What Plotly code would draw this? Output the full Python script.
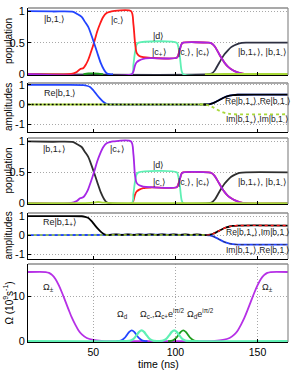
import plotly.graph_objects as go

# ---------------- data ----------------
# Panel 1: populations (first scheme)
t_p1_b1m = [10, 25, 37.8, 39.9, 42.9, 44.9, 46.9, 48.4, 50.4, 52.4, 54.5, 56.5, 58.1, 60.1, 62]
p1_b1m = [1.0, 0.995, 0.99, 0.96, 0.91, 0.83, 0.75, 0.65, 0.5, 0.34, 0.18, 0.07, 0.015, 0.0, 0.0]

t_p1_cm = [10, 35, 38, 39.9, 41.9, 44, 45.6, 46.9, 48.4, 50.4, 52.4, 54.1, 56.1, 58.1, 60.1, 62, 73,
           74.4, 75.4, 76.4, 78, 80.4, 85, 100.8, 101.7, 102.8, 103.8, 104.8, 120, 122, 124, 126, 128,
           130, 132, 134, 136, 139, 143, 169]
p1_cm = [0, 0, 0.015, 0.035, 0.08, 0.1, 0.16, 0.23, 0.34, 0.5, 0.68, 0.8, 0.91, 0.97, 0.99, 1.0, 1.0,
         0.8, 0.5, 0.34, 0.29, 0.27, 0.26, 0.26, 0.3, 0.4, 0.48, 0.5, 0.5, 0.49, 0.44, 0.35, 0.26,
         0.18, 0.12, 0.08, 0.05, 0.02, 0, 0]

t_p1_cp = [10, 73.4, 74.4, 75.4, 76.4, 78, 80.4, 85, 100.8, 101.7, 102.8, 103.8, 104.8, 120, 122, 124,
           126, 128, 130, 132, 134, 136, 139, 143, 169]
p1_cp = [0, 0, 0.04, 0.14, 0.19, 0.22, 0.245, 0.255, 0.26, 0.3, 0.4, 0.48, 0.5, 0.5, 0.49, 0.44,
         0.35, 0.26, 0.18, 0.12, 0.08, 0.05, 0.02, 0, 0]

t_p1_d = [10, 73.4, 74.4, 75.4, 76.4, 77.6, 100.8, 101.7, 102.8, 103.8, 104.8, 169]
p1_d = [0, 0, 0.15, 0.35, 0.47, 0.5, 0.5, 0.44, 0.26, 0.05, 0, 0]

t_p1_b1p = [10, 120, 122, 124, 126, 128, 130, 132, 134, 136, 139, 143, 169]
p1_b1p = [0, 0, 0.01, 0.06, 0.15, 0.24, 0.32, 0.38, 0.43, 0.46, 0.49, 0.5, 0.5]

t_p1_small = [44, 47, 50, 53, 56]
p1_small = [0, 0.012, 0.015, 0.01, 0]

t_p1_tail = [118, 130, 169]
p1_tail = [0.0, 0.004, 0.004]

# Panel 2: amplitudes (first scheme)
t_p2_re_m = [10, 30, 44, 46, 48, 50, 52, 54, 56, 58, 60, 62, 119, 121, 123, 125, 127, 129, 131, 133,
             135, 138, 169]
p2_re_m = [1.0, 1.0, 0.99, 0.96, 0.9, 0.73, 0.51, 0.31, 0.14, 0.03, 0, 0, 0, 0.02, 0.07, 0.15, 0.24,
           0.33, 0.4, 0.45, 0.48, 0.5, 0.5]
t_p2_re_p = [117, 119, 121, 123, 125, 127, 129, 131, 133, 135, 138, 169]
p2_re_p = [0, 0, 0.02, 0.07, 0.15, 0.24, 0.33, 0.4, 0.45, 0.48, 0.5, 0.5]
t_p2_zero = [10, 119]
p2_zero = [0, 0]
t_p2_im = [115, 117, 119, 121, 123, 125, 127, 129, 131, 133, 136, 169]
p2_im = [0, 0, -0.02, -0.07, -0.15, -0.24, -0.33, -0.4, -0.45, -0.48, -0.5, -0.5]

# Panel 3: populations (second scheme)
t_p3_b1p = [10, 25, 37.8, 39.9, 42.9, 44.9, 46.9, 48.4, 50.4, 52.4, 54.5, 56.5, 58.1, 60.1, 120, 122,
            124, 126, 128, 130, 132, 134, 136, 139, 143, 169]
p3_b1p = [1.0, 0.995, 0.99, 0.96, 0.91, 0.83, 0.75, 0.65, 0.5, 0.34, 0.18, 0.07, 0.015, 0, 0, 0.01,
          0.06, 0.15, 0.24, 0.32, 0.38, 0.43, 0.46, 0.49, 0.5, 0.5]
t_p3_cp = t_p1_cm
p3_cp = [0, 0, 0.015, 0.035, 0.08, 0.1, 0.16, 0.23, 0.34, 0.5, 0.68, 0.8, 0.91, 0.97, 0.99, 1.0, 1.0,
         0.8, 0.45, 0.33, 0.29, 0.27, 0.26, 0.26, 0.3, 0.4, 0.48, 0.5, 0.5, 0.49, 0.44, 0.35, 0.26,
         0.18, 0.12, 0.08, 0.05, 0.02, 0, 0]
t_p3_cm = t_p1_cp
p3_cm = [0, 0, 0.04, 0.14, 0.19, 0.22, 0.245, 0.255, 0.26, 0.3, 0.4, 0.48, 0.5, 0.5, 0.49, 0.44,
         0.35, 0.26, 0.18, 0.12, 0.08, 0.05, 0.02, 0, 0]
t_p3_d = t_p1_d
p3_d = p1_d
t_p3_base = [10, 45, 50, 53, 56, 62, 169]
p3_base = [0.003, 0.003, 0.01, 0.02, 0.01, 0.003, 0.003]

# Panel 4: amplitudes (second scheme)
t_p4_re_p = [10, 30, 43, 45, 47, 49, 51, 53, 55, 57, 59, 61, 64, 67.5, 71, 74.5, 78, 81.5, 85, 88.5,
             92, 95.5, 99, 102.5, 106, 109.5, 113, 116.5, 119, 121, 123, 125, 127, 129, 131, 133, 135,
             138, 169]
p4_re_p = [1.0, 1.0, 0.99, 0.96, 0.9, 0.73, 0.51, 0.31, 0.14, 0.03, 0.0, 0.02, 0.035, 0.005, 0.035,
           0.005, 0.035, 0.005, 0.035, 0.005, 0.035, 0.005, 0.035, 0.005, 0.035, 0.005, 0.035, 0.005,
           0.0, 0.02, 0.07, 0.15, 0.24, 0.33, 0.4, 0.45, 0.48, 0.5, 0.5]
t_p4_im_m = [119, 121, 123, 125, 127, 129, 131, 133, 135, 138, 169]
p4_im_m = [0.0, 0.02, 0.07, 0.15, 0.24, 0.33, 0.4, 0.45, 0.48, 0.5, 0.5]
t_p4_im_p = [10, 119, 121, 123, 125, 127, 129, 131, 133, 135, 138, 169]
p4_im_p = [0, 0, -0.02, -0.07, -0.15, -0.24, -0.33, -0.4, -0.45, -0.48, -0.5, -0.5]
t_p4_zero = [10, 119]
p4_zero = [0, 0]

# Panel 5: Rabi frequencies (10^9 s^-1)
t_om_pm = [10, 21, 23, 25, 27, 29, 31, 33, 35, 37, 39, 41, 43, 46, 50, 55, 60,
           119, 124, 129, 133, 136, 138, 140, 142, 144, 146, 148, 150, 152, 154, 156, 158, 169]
om_pm = [15.5, 15.5, 15.3, 14.8, 13.9, 12.5, 10.8, 8.9, 7.0, 5.2, 3.7, 2.4, 1.5, 0.7, 0.25, 0.05, 0,
         0, 0.05, 0.25, 0.7, 1.5, 2.4, 3.7, 5.2, 7.0, 8.9, 10.8, 12.5, 13.9, 14.8, 15.3, 15.5, 15.5]
t_om_d = [64, 65.9, 67.4, 68.9, 70.4, 71.9, 73.4, 74.9, 76.4, 77.9, 79.4, 80.9, 83]
om_d = [0, 0.05, 0.23, 0.65, 1.35, 2.08, 2.4, 2.08, 1.35, 0.65, 0.23, 0.05, 0]
t_om_d2 = [95.5, 97.3, 98.8, 100.3, 101.8, 103.3, 104.8, 106.3, 107.8, 109.3, 110.8, 112.3, 114]
om_d2 = [0, 0.05, 0.23, 0.65, 1.35, 2.08, 2.4, 2.08, 1.35, 0.65, 0.23, 0.05, 0]
t_om_c = [10, 70, 71.9, 73.4, 74.9, 76.4, 77.9, 79.4, 80.9, 82.4, 83.9, 85.4, 86.9, 89,
          90, 91.8, 93.3, 94.8, 96.3, 97.8, 99.3, 100.8, 102.3, 103.8, 105.3, 106.8, 109, 169]
om_c = [0, 0, 0.05, 0.23, 0.65, 1.35, 2.08, 2.4, 2.08, 1.35, 0.65, 0.23, 0.05, 0,
        0, 0.05, 0.23, 0.65, 1.35, 2.08, 2.4, 2.08, 1.35, 0.65, 0.23, 0.05, 0, 0]

x_ticks = [50, 100, 150]
x_range = [10.2, 168.6]

# ---------------- styling ----------------
BLUE = '#2244ff'
RED = '#ff1a1a'
AQUA = '#5ff0b4'
PURPLE = '#a626e6'
MAGENTA = '#b630e6'
NAVY = '#2e3042'
GRAY = '#2e2e2e'
YG = '#a8d838'
DGREEN = '#1e9e1e'
FONT = 'Liberation Sans, Arial, sans-serif'
GRID_DASH = '1px,2px'

fig = go.Figure()


def add(row, t, v, color, width=1.8, dash='solid'):
    fig.add_trace(go.Scatter(
        x=t, y=v, mode='lines',
        line=dict(color=color, width=width, dash=dash, shape='spline', smoothing=0.8),
        xaxis='x' if row == 1 else f'x{row}', yaxis='y' if row == 1 else f'y{row}',
        showlegend=False, hoverinfo='skip'))


# panel 1
add(1, t_p1_b1p, p1_b1p, NAVY)
add(1, t_p1_d, p1_d, AQUA)
add(1, t_p1_cm, p1_cm, RED)
add(1, t_p1_cp, p1_cp, PURPLE)
add(1, t_p1_b1m, p1_b1m, BLUE)
add(1, t_p1_small, p1_small, DGREEN)
add(1, t_p1_tail, p1_tail, YG)
# panel 2
add(2, t_p2_re_m, p2_re_m, BLUE)
add(2, t_p2_zero, p2_zero, YG)
add(2, t_p2_zero, p2_zero, 'black', 1.6, '2px,2px')
add(2, t_p2_re_p, p2_re_p, 'black')
add(2, t_p2_im, p2_im, YG, 1.8, 'dot')
# panel 3
add(3, t_p3_cm, p3_cm, RED)
add(3, t_p3_d, p3_d, AQUA)
add(3, t_p3_b1p, p3_b1p, GRAY)
add(3, t_p3_cp, p3_cp, PURPLE)
add(3, t_p3_base, p3_base, YG)
# panel 4
add(4, t_p4_im_p, p4_im_p, BLUE)
add(4, t_p4_re_p, p4_re_p, 'black')
add(4, t_p4_zero, p4_zero, YG, 1.6, 'dot')
add(4, t_p4_im_m, p4_im_m, RED, 1.4, 'dot')
add(4, t_p4_im_p[1:], p4_im_p[1:], '#333355', 1.0, 'dot')
# panel 5
add(5, t_om_pm, om_pm, MAGENTA)
add(5, t_om_d, om_d, BLUE)
add(5, t_om_d2, om_d2, DGREEN)
add(5, t_om_c, om_c, AQUA, 2.2)

# ---------------- layout ----------------
domains = [[0.7994, 1.0], [0.6287, 0.7754], [0.4132, 0.6108], [0.2485, 0.3862], [0.0, 0.2335]]
yranges = [[-0.012, 1.05], [-1.41, 1.1], [-0.012, 1.056], [-1.26, 1.16], [-0.2, 17.3]]
yticks = [[0, 0.5, 1], [-1, 0, 1], [0, 0.5, 1], [-1, 0, 1], [0, 10]]
yticktext = [['0', '0.5', '1'], ['-1', '0', '1'], ['0', '0.5', '1'], ['-1', '0', '1'], ['0', '10']]

layout = dict(width=293, height=371, autosize=False,
              margin=dict(l=28, r=5, t=8, b=29, autoexpand=False),
              paper_bgcolor='white', plot_bgcolor='white',
              font=dict(family=FONT, size=11, color='black'))
for i in range(5):
    k = '' if i == 0 else str(i + 1)
    layout['xaxis' + k] = dict(
        domain=[0, 1], anchor='y' + k, range=x_range, tickvals=x_ticks, automargin=False,
        showticklabels=(i == 4), ticks='inside', ticklen=3, tickcolor='black',
        showgrid=(i == 4), griddash=GRID_DASH, gridcolor='#a8a8a8', gridwidth=1,
        showline=True, linecolor='black', linewidth=1, zeroline=False,
        tickfont=dict(size=10.5))
    layout['yaxis' + k] = dict(
        domain=domains[i], anchor='x' + k, range=yranges[i], tickvals=yticks[i], automargin=False,
        ticktext=yticktext[i], ticks='inside', ticklen=3, tickcolor='black',
        showgrid=True, griddash=GRID_DASH, gridcolor='#a8a8a8', gridwidth=1,
        showline=True, linecolor='black', linewidth=1, zeroline=False,
        tickfont=dict(size=11))
fig.update_layout(**layout)

# top / right frame lines (gray, like the MATLAB box)
for i in range(5):
    k = '' if i == 0 else str(i + 1)
    fig.add_shape(type='line', xref=f'x{k} domain', yref=f'y{k} domain', x0=0, x1=1, y0=1, y1=1,
                  line=dict(color='#8c8c8c', width=1.6))
    fig.add_shape(type='line', xref=f'x{k} domain', yref=f'y{k} domain', x0=1, x1=1, y0=0, y1=1,
                  line=dict(color='#8c8c8c', width=1.2))

# curve labels
def lab(row, x, y, text, size=9):
    k = '' if row == 1 else str(row)
    fig.add_annotation(x=x, y=y, xref='x' + k, yref='y' + k, text=text, showarrow=False,
                       font=dict(size=size, family=FONT, color='#222222'),
                       xanchor='center', yanchor='middle')

lab(1, 26.6, 0.86, '|b,1<sub>-</sub>⟩')
lab(1, 64.7, 0.85, '|c<sub>-</sub>⟩')
lab(1, 90.0, 0.6, '|d⟩')
lab(1, 90.6, 0.35, '|c<sub>+</sub>⟩')
lab(1, 111.3, 0.35, '|c<sub>-</sub>⟩, |c<sub>+</sub>⟩')
lab(1, 153.0, 0.35, '|b,1<sub>+</sub>⟩, |b,1<sub>-</sub>⟩')

lab(2, 29.7, 0.55, 'Re|b,1<sub>-</sub>⟩')
lab(2, 150.3, 0.15, 'Re|b,1<sub>+</sub>⟩,Re|b,1<sub>-</sub>⟩', 8.5)
lab(2, 150.3, -0.77, 'Im|b,1<sub>+</sub>⟩,Im|b,1<sub>-</sub>⟩', 8.5)

lab(3, 26.6, 0.87, '|b,1<sub>+</sub>⟩')
lab(3, 64.7, 0.87, '|c<sub>+</sub>⟩')
lab(3, 90.0, 0.62, '|d⟩')
lab(3, 90.6, 0.34, '|c<sub>-</sub>⟩')
lab(3, 111.3, 0.34, '|c<sub>-</sub>⟩, |c<sub>+</sub>⟩')
lab(3, 153.0, 0.34, '|b,1<sub>+</sub>⟩, |b,1<sub>-</sub>⟩')

lab(4, 29.7, 0.66, 'Re|b,1<sub>+</sub>⟩')
lab(4, 150.3, 0.14, 'Re|b,1<sub>+</sub>⟩,Im|b,1<sub>-</sub>⟩', 8.5)
lab(4, 150.3, -0.81, 'Im|b,1<sub>+</sub>⟩,Re|b,1<sub>-</sub>⟩', 8.5)

lab(5, 22.7, 12.0, 'Ω<sub>±</sub>')
lab(5, 156.0, 12.0, 'Ω<sub>±</sub>')
lab(5, 68.0, 6.0, 'Ω<sub>d</sub>')
lab(5, 92.1, 6.2, 'Ω<sub>c-</sub>,Ω<sub>c+</sub>e<sup>iπ/2</sup>')
lab(5, 115.2, 6.2, 'Ω<sub>d</sub>e<sup>iπ/2</sup>')

# axis titles
ytitles = ['population', 'amplitudes', 'population', 'amplitudes', 'Ω (10<sup>9</sup>s<sup>-1</sup>)']
for i, ttl in enumerate(ytitles):
    fig.add_annotation(x=-0.075, y=(domains[i][0] + domains[i][1]) / 2, xref='paper', yref='paper',
                       text=ttl, textangle=-90, showarrow=False, xanchor='center', yanchor='middle',
                       font=dict(size=10, family=FONT, color='black'))
fig.add_annotation(x=0.5, y=-0.066, xref='paper', yref='paper', text='time (ns)', showarrow=False,
                   xanchor='center', yanchor='middle', font=dict(size=10.5, family=FONT, color='black'))

fig.write_html('out.html', config={'displayModeBar': False, 'staticPlot': True},
               post_script="document.body.style.margin='0px';document.body.style.padding='0px';")
